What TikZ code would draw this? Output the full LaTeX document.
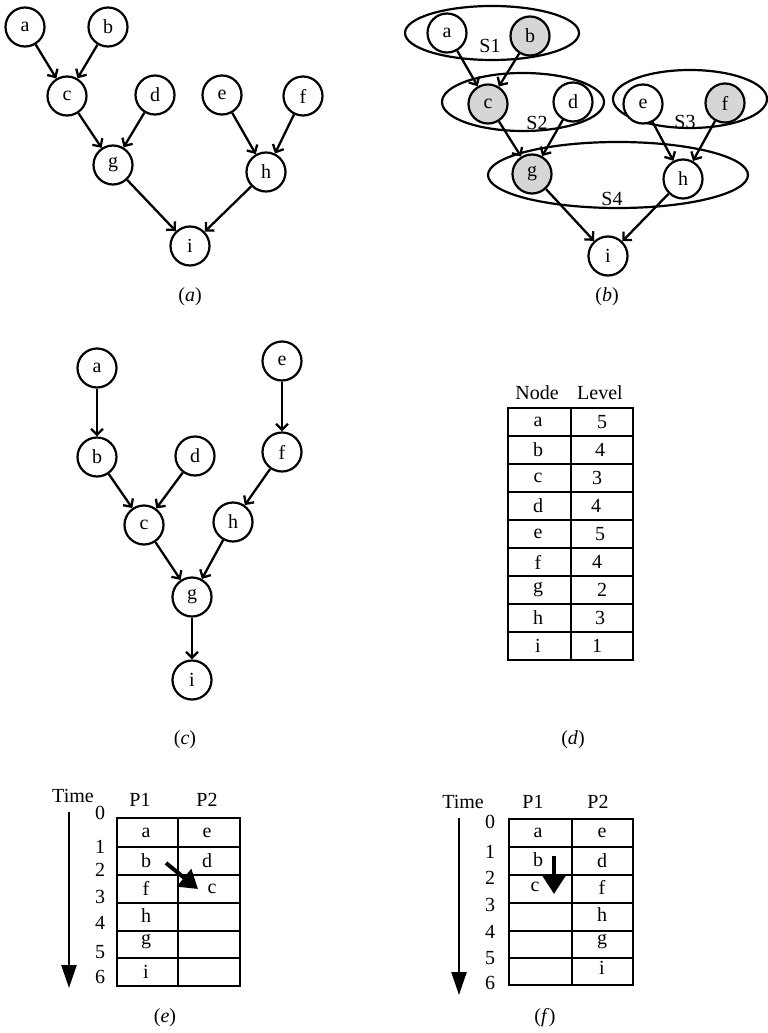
\documentclass[tikz,border=0pt]{standalone}
\usepackage{fontspec}
\setmainfont{Liberation Serif}
\usetikzlibrary{arrows.meta}
\begin{document}
\begin{tikzpicture}[x=1pt,y=-1pt,
  txt/.style={inner sep=0pt,font=\fontsize{20}{24}\selectfont},
  vtx/.style={circle,draw,line width=2.2pt,minimum size=39pt,inner sep=0pt,fill=white,font=\fontsize{20}{24}\selectfont},
  shaded/.style={vtx,fill=black!16},
  edge/.style={line width=2.3pt,-{Straight Barb[length=6pt,width=12pt,line width=2.3pt]}},
  group/.style={draw,line width=2.2pt},
  grid/.style={line width=2.8pt},
  timearrow/.style={line width=2.4pt,-{Triangle[length=23pt,width=15pt]}},
  movearrow/.style={line width=4pt,-{Triangle[length=18pt,width=22pt]}}
]
\useasboundingbox (0,0) rectangle (768,1033);

% ---------- (a) ----------
\node[vtx] (Aa) at (25,27) {a};
\node[vtx] (Ab) at (108,27) {b};
\node[vtx] (Ac) at (67,96) {c};
\node[vtx] (Ad) at (155,95) {d};
\node[vtx] (Ae) at (222,95) {e};
\node[vtx] (Af) at (303,96) {f};
\node[vtx] (Ag) at (113,165) {g};
\node[vtx] (Ah) at (266,172) {h};
\node[vtx] (Ai) at (190,246) {i};
\foreach \s/\t in {Aa/Ac,Ab/Ac,Ac/Ag,Ad/Ag,Ae/Ah,Af/Ah,Ag/Ai,Ah/Ai}
  \draw[edge] (\s) -- (\t);
\node[txt] (capa) at (190,297) {(\textit{a})};

% ---------- (b) ----------
\draw[group] (492,33) ellipse [x radius=87,y radius=27];
\draw[group] (523,102) ellipse [x radius=81,y radius=29];
\draw[group] (690,99) ellipse [x radius=77,y radius=29];
\draw[group] (618,175) ellipse [x radius=130,y radius=33];
\node[vtx] (Ba) at (447,33) {a};
\node[shaded] (Bb) at (530,36) {b};
\node[shaded] (Bc) at (488,104) {c};
\node[vtx] (Bd) at (573,102) {d};
\node[vtx] (Be) at (643,104) {e};
\node[shaded] (Bf) at (725,103) {f};
\node[shaded] (Bg) at (532,174) {g};
\node[vtx] (Bh) at (683,179) {h};
\node[vtx] (Bi) at (608,256) {i};
\node[txt] (S1) at (490,46) {S1};
\node[txt] (S2) at (537,123) {S2};
\node[txt] (S3) at (685,122) {S3};
\node[txt] (S4) at (612,199) {S4};
\foreach \s/\t in {Ba/Bc,Bb/Bc,Bc/Bg,Bd/Bg,Be/Bh,Bf/Bh,Bg/Bi,Bh/Bi}
  \draw[edge] (\s) -- (\t);
\node[txt] (capb) at (607,297) {(\textit{b})};

% ---------- (c) ----------
\node[vtx] (Ca) at (97,368) {a};
\node[vtx] (Ce) at (282,361) {e};
\node[vtx] (Cb) at (97,457) {b};
\node[vtx] (Cd) at (195,456) {d};
\node[vtx] (Cf) at (282,452) {f};
\node[vtx] (Cc) at (144,525) {c};
\node[vtx] (Ch) at (233,522) {h};
\node[vtx] (Cg) at (192,597) {g};
\node[vtx] (Ci) at (192,680) {i};
\foreach \s/\t in {Ca/Cb,Ce/Cf,Cb/Cc,Cd/Cc,Cf/Ch,Cc/Cg,Ch/Cg,Cg/Ci}
  \draw[edge] (\s) -- (\t);
\node[txt] (capc) at (185,740) {(\textit{c})};

% ---------- (d) ----------
\node[txt] (hNode) at (537,393) {Node};
\node[txt] (hLevel) at (600,393) {Level};
\draw[grid] (508,408) rectangle (633,660);
\draw[grid] (571,408) -- (571,660);
\foreach \k in {1,...,8}
  \draw[grid] (508,408+28*\k) -- (633,408+28*\k);
\foreach \n/\l/\lx [count=\k] in {a/5/602,b/4/600,c/3/597,d/4/596,e/5/600,f/4/597,g/2/602,h/3/600,i/1/597}{
  \node[txt] (dN\k) at (538,394+28*\k) {\n};
  \node[txt] (dL\k) at (\lx,394+28*\k) {\l};
}
\node[txt] (capd) at (573,740) {(\textit{d})};

% ---------- (e) ----------
\node[txt] (eTime) at (73,796) {Time};
\node[txt] (eP1) at (140,800) {P1};
\node[txt] (eP2) at (207,800) {P2};
\coordinate (eT0) at (69,812);
\coordinate (eT1) at (69,988);
\draw[timearrow] (eT0) -- (eT1);
\foreach \v/\yy in {0/813,1/847,2/870,3/897,4/923,5/952,6/977}
  \node[txt] (eN\v) at (100,\yy) {\v};
\draw[grid] (117,818) rectangle (240,986);
\draw[grid] (178,818) -- (178,986);
\foreach \yy in {847,875,903,931,958}
  \draw[grid] (117,\yy) -- (240,\yy);
\node[txt] (ea) at (146,833) {a};
\node[txt] (ee) at (207,833) {e};
\node[txt] (eb) at (146,861) {b};
\node[txt] (ed) at (207,861) {d};
\node[txt] (ef) at (146,888) {f};
\node[txt] (ec) at (212,889) {c};
\node[txt] (eh) at (146,916) {h};
\node[txt] (eg) at (146,942) {g};
\node[txt] (ei) at (146,972) {i};
\coordinate (eM0) at (166,863);
\coordinate (eM1) at (198,889);
\draw[movearrow] (eM0) -- (eM1);
\node[txt] (cape) at (165,1018) {(\textit{e})};

% ---------- (f) ----------
\node[txt] (fTime) at (463,802) {Time};
\node[txt] (fP1) at (533,802) {P1};
\node[txt] (fP2) at (598,802) {P2};
\coordinate (fT0) at (459,818);
\coordinate (fT1) at (459,995);
\draw[timearrow] (fT0) -- (fT1);
\foreach \v/\yy in {0/822,1/852,2/878,3/905,4/932,5/958,6/983}
  \node[txt] (fN\v) at (490,\yy) {\v};
\draw[grid] (509,819) rectangle (633,985);
\draw[grid] (572,819) -- (572,985);
\foreach \yy in {847,875,903,931,958}
  \draw[grid] (509,\yy) -- (633,\yy);
\node[txt] (fa) at (538,833) {a};
\node[txt] (fe) at (602,833) {e};
\node[txt] (fb) at (538,860) {b};
\node[txt] (fd) at (602,861) {d};
\node[txt] (fc) at (535,887) {c};
\node[txt] (ff) at (602,887) {f};
\node[txt] (fh) at (602,915) {h};
\node[txt] (fg) at (602,942) {g};
\node[txt] (fi) at (602,968) {i};
\coordinate (fM0) at (554,856);
\coordinate (fM1) at (554,894);
\draw[movearrow] (fM0) -- (fM1);
\node[txt] (capf) at (545,1018) {(\textit{f})};
\end{tikzpicture}
\end{document}
